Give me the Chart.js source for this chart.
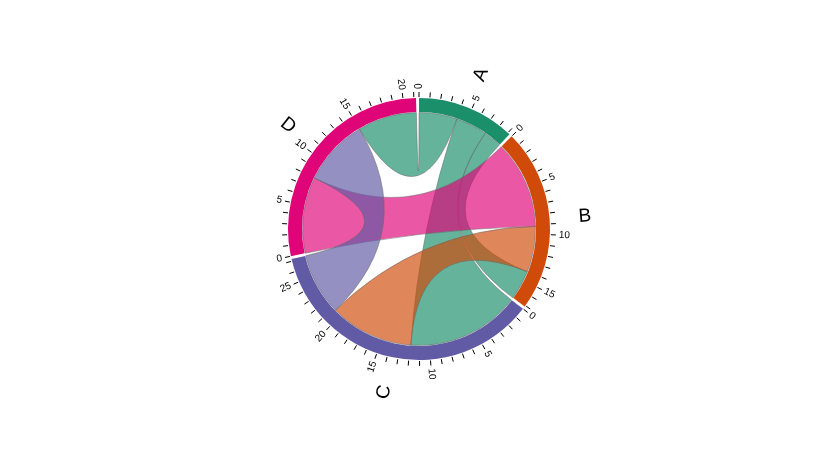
<!DOCTYPE html>
<html><head><meta charset="utf-8">
<script src="https://cdn.jsdelivr.net/npm/chart.js@4/dist/chart.umd.min.js"></script>
<style>html,body{margin:0;padding:0;background:#fff;overflow:hidden}</style>
</head><body>
<canvas id="c" width="838" height="458"></canvas>
<script>
// ---- data ----
const groupNames = ['A', 'B', 'C', 'D'];
// flows from each group to [A, B, C, D]
const fromA = [0, 1.9, 3.3, 4.0];
const fromB = [3.1, 0, 4.8, 9.2];
const fromC = [11.9, 8.8, 0, 6.5];
const fromD = [6.2, 8.0, 7.0, 0];
const minorTickStep = 1;
const labelTickStep = 5;

// ---- style ----
const groupColors = ['#1b8e6a', '#d04a0a', '#615aa4', '#e00479'];
const padDeg = 1.3;
const ribbonAlpha = 0.67;

const matrix = [fromA, fromB, fromC, fromD];
const n = groupNames.length;
const totals = matrix.map(r => r.reduce((a, b) => a + b, 0));
const grand = totals.reduce((a, b) => a + b, 0);
const gapValue = padDeg * grand / (360 - padDeg * n);
const ringData = [], ringColors = [], ringLabels = [];
groupNames.forEach((g, i) => {
  ringData.push(totals[i]); ringColors.push(groupColors[i]); ringLabels.push(g);
  ringData.push(gapValue); ringColors.push('rgba(0,0,0,0)'); ringLabels.push('');
});

const chordPlugin = {
  id: 'chord',
  afterDatasetsDraw(chart) {
    const meta = chart.getDatasetMeta(0);
    const arcs = groupNames.map((g, i) => meta.data[i * 2]);
    const ctx = chart.ctx;
    const cx = arcs[0].x, cy = arcs[0].y;
    const rIn = arcs[0].innerRadius, rOut = arcs[0].outerRadius;
    const rr = rIn - 0.5;
    const sub = [];
    const ks = [];
    arcs.forEach((arc, i) => {
      const k = (arc.endAngle - arc.startAngle) / totals[i];
      ks.push(k);
      const order = [...Array(n).keys()].sort((a, b) => matrix[i][b] - matrix[i][a]);
      let x = arc.startAngle;
      sub[i] = [];
      order.forEach(j => { const v = matrix[i][j]; sub[i][j] = [x, x + v * k]; x += v * k; });
    });
    ctx.save();
    ctx.translate(cx, cy);
    for (let i = 0; i < n; i++) for (let j = i; j < n; j++) {
      const a = matrix[i][j], b = matrix[j][i];
      if (!a && !b) continue;
      let s = [i, j], t = [j, i];
      if (a < b) { s = [j, i]; t = [i, j]; }
      const sa = sub[s[0]][s[1]], ta = sub[t[0]][t[1]];
      ctx.beginPath();
      ctx.moveTo(rr * Math.cos(sa[0]), rr * Math.sin(sa[0]));
      ctx.arc(0, 0, rr, sa[0], sa[1]);
      ctx.quadraticCurveTo(0, 0, rr * Math.cos(ta[0]), rr * Math.sin(ta[0]));
      ctx.arc(0, 0, rr, ta[0], ta[1]);
      ctx.quadraticCurveTo(0, 0, rr * Math.cos(sa[0]), rr * Math.sin(sa[0]));
      ctx.closePath();
      ctx.globalAlpha = ribbonAlpha;
      ctx.fillStyle = groupColors[t[0]];
      ctx.fill();
      ctx.globalAlpha = 1;
      ctx.strokeStyle = 'rgba(100,100,100,0.5)';
      ctx.lineWidth = 1;
      ctx.stroke();
    }
    // ticks and labels
    const drawRadial = (phi, r, text, font) => {
      ctx.save();
      ctx.rotate(phi);
      ctx.translate(r, 0);
      const left = Math.cos(phi) < -1e-9 || (Math.abs(Math.cos(phi)) < 1e-9 && Math.sin(phi) > 0);
      if (left) { ctx.rotate(Math.PI); ctx.textAlign = 'end'; } else { ctx.textAlign = 'start'; }
      ctx.textBaseline = 'middle';
      ctx.font = font;
      ctx.fillStyle = '#000';
      ctx.fillText(text, 0, 0);
      ctx.restore();
    };
    ctx.strokeStyle = '#000';
    ctx.lineWidth = 1;
    arcs.forEach((arc, i) => {
      for (let v = 0; v <= totals[i] + 1e-9; v += minorTickStep) {
        const phi = arc.startAngle + v * ks[i];
        ctx.beginPath();
        ctx.moveTo((rOut + 1) * Math.cos(phi), (rOut + 1) * Math.sin(phi));
        ctx.lineTo((rOut + 6) * Math.cos(phi), (rOut + 6) * Math.sin(phi));
        ctx.stroke();
        if (Math.round(v) % labelTickStep === 0) {
          drawRadial(phi, rOut + 9, String(Math.round(v)), '10px "Liberation Sans", Arial, sans-serif');
        }
      }
      const mid = (arc.startAngle + arc.endAngle) / 2;
      drawRadial(mid, rOut + 29, groupNames[i], '19px "Liberation Sans", Arial, sans-serif');
    });
    ctx.restore();
  }
};

new Chart(document.getElementById('c'), {
  type: 'doughnut',
  data: { labels: ringLabels, datasets: [{ data: ringData, backgroundColor: ringColors, borderWidth: 0, hoverOffset: 0 }] },
  options: {
    responsive: false,
    animation: false,
    cutout: '89.3%',
    layout: { padding: 98 },
    events: [],
    plugins: { legend: { display: false }, tooltip: { enabled: false } }
  },
  plugins: [chordPlugin]
});
</script>
</body></html>
